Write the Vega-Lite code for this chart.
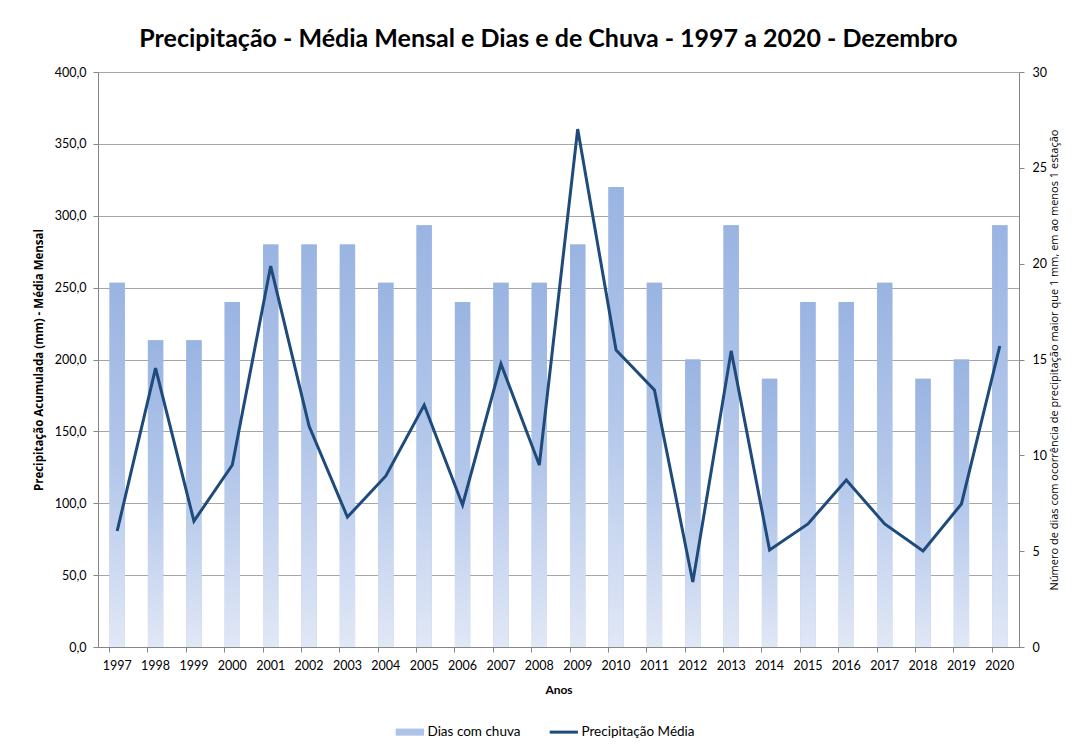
{
  "$schema": "https://vega.github.io/schema/vega-lite/v6.json",
  "width": 921,
  "height": 575,
  "autosize": "none",
  "padding": {"left": 98, "top": 72, "right": 57, "bottom": 102},
  "background": "white",
  "title": {
    "text": "Precipitação - Média Mensal e Dias e de Chuva - 1997 a 2020 - Dezembro",
    "font": "Lato",
    "fontSize": 25,
    "fontWeight": "bold",
    "color": "#000000",
    "anchor": "middle",
    "dx": -10,
    "offset": 14
  },
  "data": {
    "values": [
      {"ano": "1997", "dias": 19, "precip": 80.7},
      {"ano": "1998", "dias": 16, "precip": 194.0},
      {"ano": "1999", "dias": 16, "precip": 87.6},
      {"ano": "2000", "dias": 18, "precip": 126.6},
      {"ano": "2001", "dias": 21, "precip": 265.0},
      {"ano": "2002", "dias": 21, "precip": 153.7},
      {"ano": "2003", "dias": 21, "precip": 90.4},
      {"ano": "2004", "dias": 19, "precip": 119.0},
      {"ano": "2005", "dias": 22, "precip": 168.3},
      {"ano": "2006", "dias": 18, "precip": 98.8},
      {"ano": "2007", "dias": 19, "precip": 196.9},
      {"ano": "2008", "dias": 19, "precip": 126.6},
      {"ano": "2009", "dias": 21, "precip": 360.3},
      {"ano": "2010", "dias": 24, "precip": 206.6},
      {"ano": "2011", "dias": 19, "precip": 178.8},
      {"ano": "2012", "dias": 15, "precip": 45.2},
      {"ano": "2013", "dias": 22, "precip": 206.0},
      {"ano": "2014", "dias": 14, "precip": 67.5},
      {"ano": "2015", "dias": 18, "precip": 85.6},
      {"ano": "2016", "dias": 18, "precip": 116.2},
      {"ano": "2017", "dias": 19, "precip": 85.6},
      {"ano": "2018", "dias": 14, "precip": 66.8},
      {"ano": "2019", "dias": 15, "precip": 99.5},
      {"ano": "2020", "dias": 22, "precip": 209.4}
    ]
  },
  "encoding": {
    "x": {
      "field": "ano",
      "type": "ordinal",
      "scale": {"paddingInner": 0.6, "paddingOuter": 0.3},
      "axis": {
        "title": "Anos",
        "titleFont": "Lato",
        "titleFontSize": 12,
        "titleFontWeight": "bold",
        "titleColor": "#000000",
        "titlePadding": 13,
        "labelAngle": 0,
        "labelFont": "Lato",
        "labelFontSize": 12.5,
        "labelColor": "#000000",
        "labelPadding": 7,
        "bandPosition": 0,
        "tickSize": 5,
        "tickColor": "#868686",
        "domainColor": "#868686"
      }
    }
  },
  "layer": [
    {
      "mark": {"type": "bar"},
      "encoding": {
        "y": {
          "field": "dias",
          "type": "quantitative",
          "scale": {"domain": [0, 30], "nice": false},
          "axis": null
        },
        "color": {
          "datum": "Dias com chuva",
          "scale": {
            "domain": ["Dias com chuva", "Precipitação Média"],
            "range": ["#adc3e9", "#1f4a7c"]
          },
          "legend": {
            "title": null,
            "orient": "none",
            "direction": "horizontal",
            "legendX": 298,
            "legendY": 653,
            "labelFont": "Lato",
            "labelFontSize": 13.5,
            "labelColor": "#000000",
            "labelOffset": 18,
            "columnPadding": 22,
            "symbolSize": 200,
            "encode": {
              "symbols": {
                "update": {
                  "shape": {"signal": "datum.value == 'Dias com chuva' ? 'M-1,-0.5H3V0.5H-1Z' : 'M-1,0H3'"},
                  "fill": {"signal": "datum.value == 'Dias com chuva' ? '#b4c8ec' : 'transparent'"},
                  "stroke": {"signal": "datum.value == 'Dias com chuva' ? 'transparent' : '#1f4a7c'"},
                  "strokeWidth": {"signal": "datum.value == 'Dias com chuva' ? 0 : 3"},
                  "opacity": {"value": 1}
                }
              }
            }
          }
        }
      }
    },
    {
      "mark": {
        "type": "bar",
        "fill": {
          "gradient": "linear",
          "x1": 0, "y1": 0, "x2": 0, "y2": 1,
          "stops": [
            {"offset": 0, "color": "#9ab4e2"},
            {"offset": 0.5, "color": "#b3c7ea"},
            {"offset": 1, "color": "#e1e8f6"}
          ]
        }
      },
      "encoding": {
        "y": {
          "field": "dias",
          "type": "quantitative",
          "scale": {"domain": [0, 30], "nice": false},
          "axis": {
            "orient": "right",
            "values": [0, 5, 10, 15, 20, 25, 30],
            "grid": false,
            "title": "Número de dias com ocorrência de precipitação maior que 1 mm, em ao menos 1 estação",
            "titleFont": "Open Sans",
            "titleFontSize": 11,
            "titleFontWeight": "normal",
            "titleColor": "#000000",
            "titleAngle": 270,
            "titlePadding": 13,
            "labelFont": "Lato",
            "labelFontSize": 12.5,
            "labelColor": "#000000",
            "labelPadding": 8,
            "tickSize": 5,
            "tickColor": "#868686",
            "domainColor": "#868686"
          }
        }
      }
    },
    {
      "mark": {"type": "line", "strokeWidth": 3},
      "encoding": {
        "y": {
          "field": "precip",
          "type": "quantitative",
          "scale": {"domain": [0, 400], "nice": false},
          "axis": {
            "orient": "left",
            "values": [0, 50, 100, 150, 200, 250, 300, 350, 400],
            "labelExpr": "replace(format(datum.value, '.1f'), '.', ',')",
            "grid": true,
            "gridColor": "#a6a6a6",
            "gridWidth": 1,
            "title": "Precipitação  Acumulada  (mm) - Média Mensal",
            "titleFont": "Open Sans",
            "titleFontSize": 11.5,
            "titleFontWeight": "bold",
            "titleColor": "#000000",
            "titlePadding": 10,
            "labelFont": "Lato",
            "labelFontSize": 12.5,
            "labelColor": "#000000",
            "labelPadding": 7,
            "tickSize": 5,
            "tickColor": "#868686",
            "domainColor": "#868686"
          }
        },
        "color": {"datum": "Precipitação Média"}
      }
    }
  ],
  "resolve": {"scale": {"y": "independent"}, "axis": {"y": "independent"}},
  "config": {
    "view": {"stroke": null}
  }
}
